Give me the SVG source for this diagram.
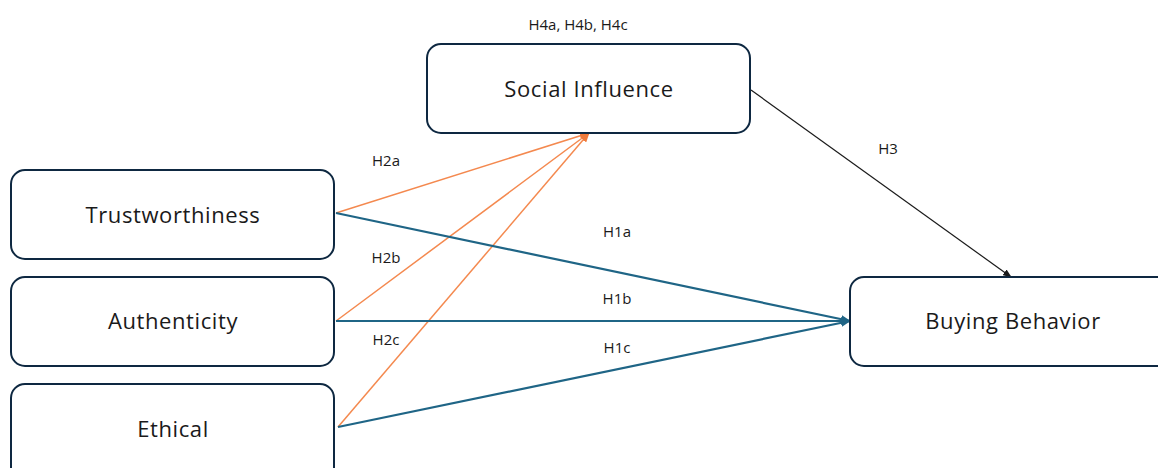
<svg xmlns="http://www.w3.org/2000/svg" width="1158" height="468" viewBox="0 0 1158 468">
<style>
.box{fill:#fff;stroke:#0e2841;stroke-width:2}
.nt{font-family:"Open Sans","Liberation Sans",sans-serif;font-size:22px;letter-spacing:0.6px;fill:#1a1a1a;text-anchor:middle}
.lb{font-family:"Open Sans","Liberation Sans",sans-serif;font-size:15px;fill:#1a1a1a;text-anchor:middle}
.or{stroke:#f4894f;stroke-width:1.5;fill:none}
.bl{stroke:#1f6586;stroke-width:2.2;fill:none}
.bk{stroke:#1a1a1a;stroke-width:1.2;fill:none}
</style>
<defs>
<marker id="ao" markerWidth="10" markerHeight="8" refX="9" refY="4" orient="auto" markerUnits="userSpaceOnUse"><path d="M0,0 L10,4 L0,8 z" fill="#f07a3a"/></marker>
<marker id="ab" markerWidth="10" markerHeight="8" refX="9" refY="4" orient="auto" markerUnits="userSpaceOnUse"><path d="M0,0 L10,4 L0,8 z" fill="#1f6586"/></marker>
<marker id="ak" markerWidth="9" markerHeight="7" refX="8" refY="3.5" orient="auto" markerUnits="userSpaceOnUse"><path d="M0,0 L9,3.5 L0,7 z" fill="#1a1a1a"/></marker>
</defs>
<g id="connectors">
<line class="or" x1="336" y1="213" x2="589" y2="133" marker-end="url(#ao)"/>
<line class="or" x1="336" y1="321" x2="589" y2="133" marker-end="url(#ao)"/>
<line class="or" x1="338" y1="427" x2="589" y2="133" marker-end="url(#ao)"/>
<line class="bl" x1="336" y1="213" x2="850" y2="321" marker-end="url(#ab)"/>
<line class="bl" x1="336" y1="321" x2="850" y2="321" marker-end="url(#ab)"/>
<line class="bl" x1="338" y1="427" x2="850" y2="321" marker-end="url(#ab)"/>
<line class="bk" x1="751" y1="90" x2="1011" y2="277" marker-end="url(#ak)"/>
<text class="lb" x="386" y="166">H2a</text>
<text class="lb" x="386" y="263">H2b</text>
<text class="lb" x="386" y="345">H2c</text>
<text class="lb" x="617" y="237">H1a</text>
<text class="lb" x="617" y="304">H1b</text>
<text class="lb" x="617" y="353">H1c</text>
<text class="lb" x="888" y="154">H3</text>
<text class="lb" x="578" y="30">H4a, H4b, H4c</text>
</g>
<g id="social"><rect class="box" x="427" y="44" width="323" height="89" rx="14"/><text class="nt" x="589" y="97">Social Influence</text></g>
<g id="trust"><rect class="box" x="11" y="170" width="323" height="89" rx="14"/><text class="nt" x="173" y="223">Trustworthiness</text></g>
<g id="auth"><rect class="box" x="11" y="277" width="323" height="89" rx="14"/><text class="nt" x="173" y="329">Authenticity</text></g>
<g id="ethical"><rect class="box" x="11" y="384" width="323" height="100" rx="14"/><text class="nt" x="173" y="437">Ethical</text></g>
<g id="buying"><rect class="box" x="850" y="277" width="330" height="89" rx="14"/><text class="nt" x="1013" y="329">Buying Behavior</text></g>
</svg>
